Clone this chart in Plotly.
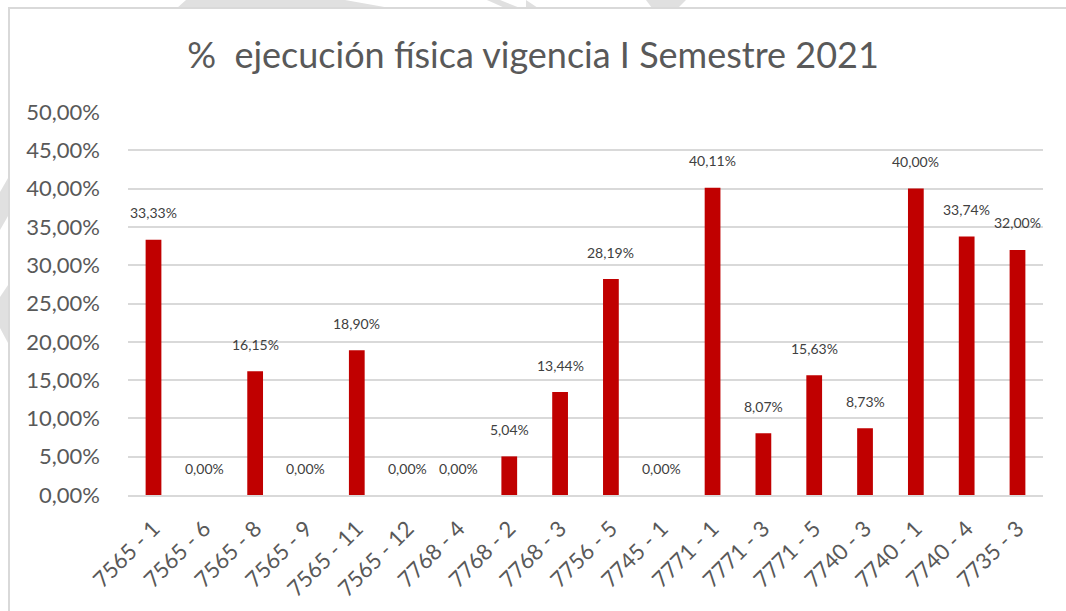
import plotly.graph_objects as go

categories = ["7565 - 1", "7565 - 6", "7565 - 8", "7565 - 9", "7565 - 11", "7565 - 12",
              "7768 - 4", "7768 - 2", "7768 - 3", "7756 - 5", "7745 - 1", "7771 - 1",
              "7771 - 3", "7771 - 5", "7740 - 3", "7740 - 1", "7740 - 4", "7735 - 3"]
values_pct = [33.33, 0.00, 16.15, 0.00, 18.90, 0.00, 0.00, 5.04, 13.44, 28.19,
              0.00, 40.11, 8.07, 15.63, 8.73, 40.00, 33.74, 32.00]
y_ticks_pct = [0, 5, 10, 15, 20, 25, 30, 35, 40, 45, 50]

values = [v / 100 for v in values_pct]
labels = [f"{v:.2f}%".replace(".", ",") for v in values_pct]

FONT = "Lato, Open Sans, sans-serif"

# plot area geometry in pixels
L, R, T, B = 128, 1043, 112, 495
W, H = R - L, B - T


def px(x, y):
    return (x - L) / W, (B - y) / H


def path(points):
    pts = [px(x, y) for x, y in points]
    return "M " + " L ".join(f"{a:.4f},{b:.4f}" for a, b in pts) + " Z"


fig = go.Figure()
fig.add_trace(go.Bar(
    x=categories, y=values,
    marker=dict(color="#c00000", line=dict(width=0)),
    width=0.31,
    hoverinfo="skip",
))

annotations = []
for c, v, t in zip(categories, values, labels):
    annotations.append(dict(
        x=c, y=v, xref="x", yref="y", text=t, showarrow=False,
        yanchor="middle", yshift=27,
        font=dict(family=FONT, size=14, color="#404040"),
    ))

shapes = []
wm = "#e0e0e0"
# faint watermark shapes around the chart frame
for poly in [
    [(177, 8), (186, 0), (345, 0), (390, 8)],
    [(487, 0), (500, 0), (520, 8), (505, 8)],
    [(526, 0), (538, 8), (526, 8)],
    [(646, 0), (686, 0), (678, 8), (652, 8)],
    [(8, 178), (0, 192), (0, 230), (8, 216)],
    [(8, 285), (0, 297), (0, 328), (8, 343)],
]:
    shapes.append(dict(type="path", path=path(poly), xref="paper", yref="paper",
                       fillcolor=wm, line=dict(width=0), layer="below"))
# chart border
x0, y0 = px(9, 8)
x1, y1 = px(1075, 620)
shapes.append(dict(type="rect", xref="paper", yref="paper", x0=x0, y0=y1, x1=x1, y1=y0,
                   line=dict(color="#d9d9d9", width=2), fillcolor="rgba(0,0,0,0)", layer="below"))

fig.update_layout(
    width=1066, height=611,
    margin=dict(l=L, r=1066 - R, t=T, b=611 - B, autoexpand=False),
    paper_bgcolor="white", plot_bgcolor="white",
    separators=",.",
    showlegend=False,
    title=dict(text="%  ejecución física vigencia I Semestre 2021",
               x=0.5, xanchor="center", y=1 - 55 / 611, yanchor="middle",
               font=dict(family=FONT, size=36, color="#595959")),
    xaxis=dict(type="category", tickangle=-45, showgrid=False, showline=True,
               linecolor="#d9d9d9", linewidth=2, ticks="", ticklabelstandoff=10,
               automargin=False,
               tickfont=dict(family=FONT, size=22, color="#595959")),
    yaxis=dict(range=[0, 0.5], tickvals=[v / 100 for v in y_ticks_pct], tickformat=".2%",
               showgrid=True, gridcolor="#d9d9d9", gridwidth=2, zeroline=False,
               showline=False, ticks="", ticklabelstandoff=27, automargin=False,
               tickfont=dict(family=FONT, size=22, color="#595959")),
    annotations=annotations,
    shapes=shapes,
)

fig.write_html("out.html", config={"displayModeBar": False},
               post_script="document.body.style.margin='0';document.body.style.overflow='hidden';")
